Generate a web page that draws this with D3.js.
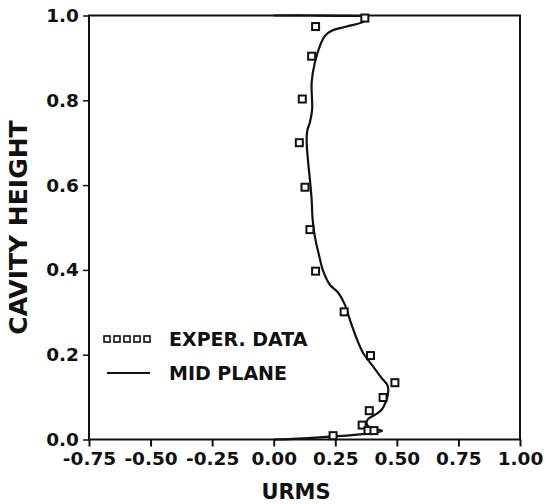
<!DOCTYPE html>
<html>
<head>
<meta charset="utf-8">
<script src="https://cdn.jsdelivr.net/npm/d3@7"></script>
<style>
  html, body { margin: 0; padding: 0; background: #fff; }
  svg { display: block; }
  text { font-family: "DejaVu Sans", "Liberation Sans", Arial, sans-serif; font-weight: bold; fill: #111; }
</style>
</head>
<body>
<svg id="chart" width="545" height="504"></svg>
<script>
// Tick values
const xTicks = [-0.75, -0.50, -0.25, 0.00, 0.25, 0.50, 0.75, 1.00];
const yTicks = [0.0, 0.2, 0.4, 0.6, 0.8, 1.0];

// Experimental RMS velocity along the cavity height
const expUrms   = [0.370, 0.170, 0.154, 0.116, 0.104, 0.127, 0.147, 0.170, 0.286, 0.393, 0.492, 0.444, 0.388, 0.359, 0.383, 0.407, 0.241];
const expHeight = [0.994, 0.974, 0.904, 0.803, 0.700, 0.595, 0.495, 0.397, 0.301, 0.198, 0.134, 0.099, 0.068, 0.034, 0.021, 0.021, 0.009];

// Computed mid-plane profile, ordered from the bottom wall to the top wall
const midUrms   = [0.000, 0.060, 0.188, 0.350, 0.440, 0.390, 0.377, 0.383, 0.411, 0.438, 0.455, 0.465, 0.461, 0.438, 0.404, 0.363, 0.336, 0.309, 0.289, 0.262, 0.228, 0.201, 0.185, 0.167, 0.158, 0.154, 0.147, 0.140, 0.134, 0.136, 0.147, 0.156, 0.154, 0.167, 0.188, 0.208, 0.235, 0.296, 0.363, 0.383, 0.309, 0.150, 0.000];
const midHeight = [0.000, 0.001, 0.005, 0.012, 0.020, 0.028, 0.038, 0.048, 0.058, 0.070, 0.089, 0.113, 0.129, 0.145, 0.172, 0.204, 0.239, 0.283, 0.318, 0.346, 0.365, 0.397, 0.432, 0.479, 0.519, 0.566, 0.613, 0.653, 0.700, 0.728, 0.748, 0.779, 0.842, 0.889, 0.929, 0.952, 0.964, 0.974, 0.985, 0.996, 0.999, 1.000, 1.000];

const legendLabels = ["EXPER. DATA", "MID PLANE"];

const svg = d3.select("#chart");
const plotLeft = 89, plotRight = 520, plotTop = 15.5, plotBottom = 439.5;

const x = d3.scaleLinear().domain([-0.75, 1.0]).range([plotLeft, plotRight]);
const y = d3.scaleLinear().domain([0, 1]).range([plotBottom, plotTop]);

// Frame
svg.append("rect")
  .attr("x", plotLeft).attr("y", plotTop)
  .attr("width", plotRight - plotLeft).attr("height", plotBottom - plotTop)
  .attr("fill", "none").attr("stroke", "#111").attr("stroke-width", 2);

// Axes
const xAxis = d3.axisBottom(x).tickValues(xTicks).tickSize(7).tickPadding(3);
const gx = svg.append("g").attr("transform", `translate(0,${plotBottom})`).call(xAxis);
gx.select(".domain").remove();
gx.selectAll("line").attr("stroke", "#111").attr("stroke-width", 2);
gx.selectAll("text").attr("font-size", 18.5).attr("dy", "0.82em")
  .text(d => d.toFixed(2));

const yAxis = d3.axisLeft(y).tickValues(yTicks).tickSize(6).tickPadding(4);
const gy = svg.append("g").attr("transform", `translate(${plotLeft},0)`).call(yAxis);
gy.select(".domain").remove();
gy.selectAll("line").attr("stroke", "#111").attr("stroke-width", 1.5);
gy.selectAll("text").attr("font-size", 18.5).text(d => d.toFixed(1));

// Axis titles
svg.append("text")
  .attr("x", 296).attr("y", 499)
  .attr("text-anchor", "middle").attr("font-size", 21)
  .text("URMS");
svg.append("text")
  .attr("transform", `translate(27,${(plotTop + plotBottom) / 2}) rotate(-90)`)
  .attr("text-anchor", "middle").attr("font-size", 25)
  .text("CAVITY HEIGHT");

// Mid-plane curve
const line = d3.line()
  .x((d, i) => x(midUrms[i]))
  .y((d, i) => y(midHeight[i]))
  .curve(d3.curveCatmullRom.alpha(0.5));
svg.append("path")
  .attr("d", line(midUrms))
  .attr("fill", "none").attr("stroke", "#111").attr("stroke-width", 2.2);

// Experimental points
const sq = 7;
svg.append("g").selectAll("rect")
  .data(expUrms)
  .join("rect")
  .attr("x", d => x(d) - sq / 2)
  .attr("y", (d, i) => y(expHeight[i]) - sq / 2)
  .attr("width", sq).attr("height", sq)
  .attr("fill", "#fff").attr("stroke", "#111").attr("stroke-width", 2);

// Legend
const lg = svg.append("g");
const ls = 6;
lg.selectAll("rect")
  .data(d3.range(5))
  .join("rect")
  .attr("x", d => 104 + d * 10)
  .attr("y", 339 - ls / 2)
  .attr("width", ls).attr("height", ls)
  .attr("fill", "#fff").attr("stroke", "#111").attr("stroke-width", 1.6);
lg.append("line")
  .attr("x1", 107).attr("x2", 150).attr("y1", 373).attr("y2", 373)
  .attr("stroke", "#111").attr("stroke-width", 2);
lg.selectAll("text")
  .data(legendLabels)
  .join("text")
  .attr("x", 169)
  .attr("y", (d, i) => 339 + i * 34)
  .attr("dy", "0.36em")
  .attr("font-size", 19)
  .text(d => d);
</script>
</body>
</html>
